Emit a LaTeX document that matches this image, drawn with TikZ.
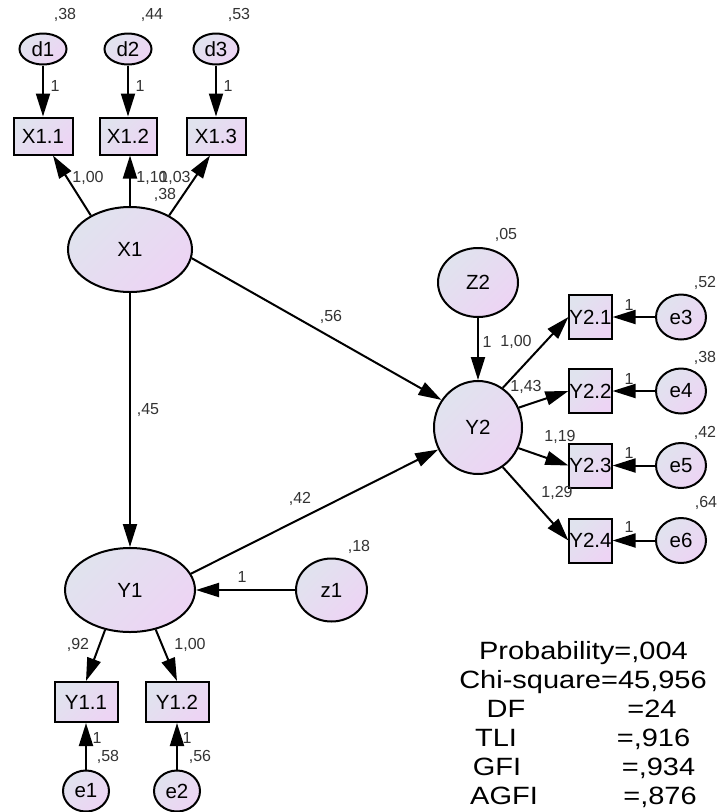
\documentclass[tikz,border=0pt]{standalone}
\usepackage{fontspec}
\setmainfont{Liberation Sans}
\usepackage{graphicx}
\usetikzlibrary{shapes.geometric,arrows.meta}
\definecolor{fillA}{RGB}{224,227,238}
\definecolor{fillB}{RGB}{237,212,244}
\begin{document}
\begin{tikzpicture}[x=1pt,y=-1pt,
  lat/.style={ellipse, draw, line width=2pt, top color=fillA, bottom color=fillB, shading angle=45, inner sep=0pt, font=\fontsize{20.5}{24}\selectfont},
  obs/.style={rectangle, draw, line width=2pt, top color=fillA, bottom color=fillB, shading angle=45, inner sep=0pt, font=\fontsize{20.5}{24}\selectfont},
  arr/.style={line width=2pt, -{Triangle[length=23pt,width=14pt]}},
  lbl/.style={font=\fontsize{16}{18}\selectfont, inner sep=0pt, text=black!80},
  stat/.style={font=\fontsize{25}{28}\selectfont, inner sep=0pt, anchor=base}]
\fill[white] (0,0) rectangle (717,812);
\useasboundingbox (0,0) rectangle (717,812);
% error terms top
\node[lat, minimum width=47pt, minimum height=31pt] (d1) at (43,49) {d1};
\node[lat, minimum width=47pt, minimum height=31pt] (d2) at (128,49) {d2};
\node[lat, minimum width=45pt, minimum height=31pt] (d3) at (216,49) {d3};
% X indicators
\node[obs, minimum width=59pt, minimum height=37pt] (X11) at (43,136) {X1.1};
\node[obs, minimum width=57pt, minimum height=37pt] (X12) at (128,136) {X1.2};
\node[obs, minimum width=59pt, minimum height=37pt] (X13) at (216,136) {X1.3};
% latent
\node[lat, minimum width=124pt, minimum height=85pt] (X1) at (130,249.5) {X1};
\node[lat, minimum width=130pt, minimum height=84pt] (Y1) at (130,590) {Y1};
\node[lat, minimum width=71pt, minimum height=63pt] (z1) at (331.5,590) {z1};
\node[lat, minimum width=80pt, minimum height=69pt] (Z2) at (478,282.5) {Z2};
\node[lat, minimum width=88pt, minimum height=93pt] (Y2) at (478,427.5) {Y2};
% Y1 indicators
\node[obs, minimum width=63pt, minimum height=40pt] (Y11) at (86,702) {Y1.1};
\node[obs, minimum width=63pt, minimum height=40pt] (Y12) at (177,702) {Y1.2};
\node[lat, minimum width=46pt, minimum height=41pt] (e1) at (86,791) {e1};
\node[lat, minimum width=46pt, minimum height=41pt] (e2) at (177,791) {e2};
% Y2 indicators
\node[obs, minimum width=41pt, minimum height=44pt] (Y21) at (590.5,317) {Y2.1};
\node[obs, minimum width=41pt, minimum height=44pt] (Y22) at (590.5,391) {Y2.2};
\node[obs, minimum width=41pt, minimum height=44pt] (Y23) at (590.5,465.5) {Y2.3};
\node[obs, minimum width=41pt, minimum height=44pt] (Y24) at (590.5,540.5) {Y2.4};
\node[lat, minimum width=50pt, minimum height=45pt] (e3) at (681,317) {e3};
\node[lat, minimum width=50pt, minimum height=45pt] (e4) at (681,391) {e4};
\node[lat, minimum width=50pt, minimum height=45pt] (e5) at (681,465.5) {e5};
\node[lat, minimum width=50pt, minimum height=45pt] (e6) at (681,540.5) {e6};
% arrows
\draw[arr] (d1.south) -- (X11.north);
\draw[arr] (d2.south) -- (X12.north);
\draw[arr] (d3.south) -- (X13.north);
\draw[arr] (X1.139) -- ([xshift=10pt]X11.south);
\draw[arr] (X1.north) -- (X1.north |- X12.south);
\draw[arr] (X1.41) -- ([xshift=-6pt]X13.south);
\draw[arr] (X1.-8) -- (Y2.143);
\draw[arr] (X1.south) -- (Y1.north);
\draw[arr] (Y1.15) -- (Y2.209);
\draw[arr] (z1.west) -- (Y1.east);
\draw[arr] (Z2.south) -- (Y2.north);
\draw[arr] (Y2.58) -- (Y21.west);
\draw[arr] (Y2.26) -- (Y22.west);
\draw[arr] (Y2.-27) -- (Y23.west);
\draw[arr] (Y2.-58) -- (Y24.west);
\draw[arr] (e3.west) -- (Y21.east);
\draw[arr] (e4.west) -- (Y22.east);
\draw[arr] (e5.west) -- (Y23.east);
\draw[arr] (e6.west) -- (Y24.east);
\draw[arr] (Y1.-122) -- (Y11.north);
\draw[arr] (Y1.-57) -- (Y12.north);
\draw[arr] (e1.north) -- (Y11.south);
\draw[arr] (e2.north) -- (Y12.south);
% labels
\node[lbl] (v1) at (65,15) {,38};
\node[lbl] (v2) at (152,15) {,44};
\node[lbl] (v3) at (239,15) {,53};
\node[lbl] (o1) at (55,86) {1};
\node[lbl] (o2) at (140,86) {1};
\node[lbl] (o3) at (228,86) {1};
\node[lbl] (l1) at (88,178) {1,00};
\node[lbl] (l2) at (152,178) {1,10};
\node[lbl] (l3) at (175,178) {1,03};
\node[lbl] (vx1) at (165,195) {,38};
\node[lbl] (l56) at (331,317) {,56};
\node[lbl] (l45) at (148,410) {,45};
\node[lbl] (l42) at (300,499) {,42};
\node[lbl] (v05) at (506,235) {,05};
\node[lbl] (oz2) at (487,342) {1};
\node[lbl] (l100) at (516,342) {1,00};
\node[lbl] (l143) at (526,387) {1,43};
\node[lbl] (l119) at (560,437) {1,19};
\node[lbl] (l129) at (557,493) {1,29};
\node[lbl] (v52) at (705,283) {,52};
\node[lbl] (v38b) at (705,358) {,38};
\node[lbl] (v42) at (705,433) {,42};
\node[lbl] (v64) at (706,503) {,64};
\node[lbl] (o4) at (629,305) {1};
\node[lbl] (o5) at (629,379) {1};
\node[lbl] (o6) at (629,453) {1};
\node[lbl] (o7) at (629,527) {1};
\node[lbl] (v18) at (359,547) {,18};
\node[lbl] (oz1) at (242,577) {1};
\node[lbl] (l92) at (78,645) {,92};
\node[lbl] (l100b) at (190,645) {1,00};
\node[lbl] (o8) at (97,738) {1};
\node[lbl] (v58) at (108,757) {,58};
\node[lbl] (o9) at (187,738) {1};
\node[lbl] (v56) at (200,757) {,56};
% fit statistics
\node[stat] (s1) at (583.5,659) {\scalebox{1.16}[1]{Probability=,004}};
\node[stat] (s2) at (583,688) {\scalebox{1.16}[1]{Chi-square=45,956}};
\node[stat] (s3a) at (506,717) {\scalebox{1.16}[1]{DF}};
\node[stat] (s3b) at (652,717) {\scalebox{1.16}[1]{=24}};
\node[stat] (s4a) at (496,746) {\scalebox{1.16}[1]{TLI}};
\node[stat] (s4b) at (653.5,746) {\scalebox{1.16}[1]{=,916}};
\node[stat] (s5a) at (497,775) {\scalebox{1.16}[1]{GFI}};
\node[stat] (s5b) at (658.5,775) {\scalebox{1.16}[1]{=,934}};
\node[stat] (s6a) at (504,804) {\scalebox{1.16}[1]{AGFI}};
\node[stat] (s6b) at (660,804) {\scalebox{1.16}[1]{=,876}};
\end{tikzpicture}
\end{document}
